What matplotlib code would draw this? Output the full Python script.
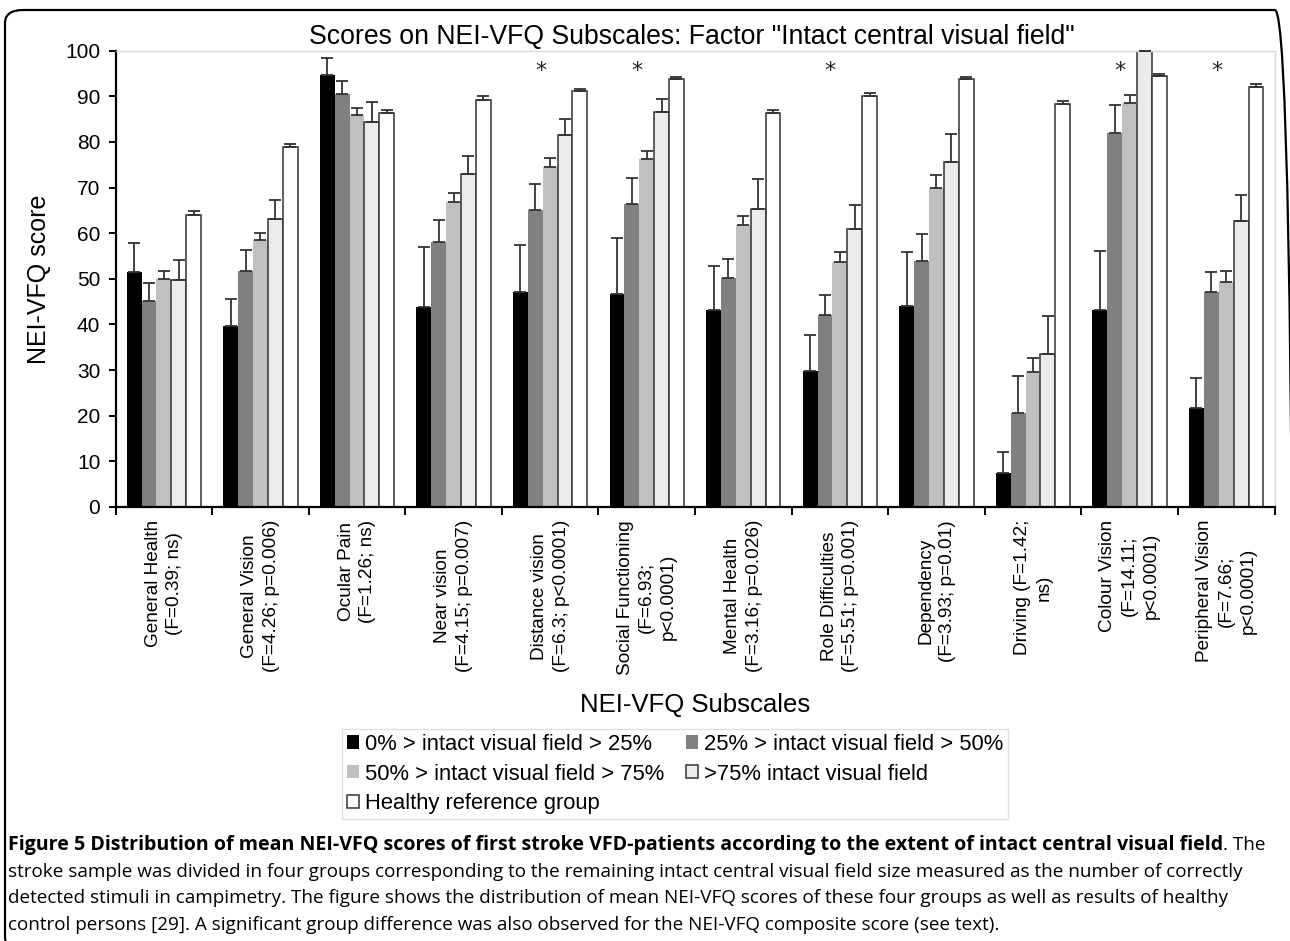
import matplotlib
matplotlib.use('Agg')
import matplotlib.pyplot as plt
from matplotlib.patches import FancyBboxPatch
import numpy as np

# ---------------- data ----------------
categories = [
    "General Health\n(F=0.39; ns)",
    "General Vision\n(F=4.26; p=0.006)",
    "Ocular Pain\n(F=1.26; ns)",
    "Near vision\n(F=4.15; p=0.007)",
    "Distance vision\n(F=6.3; p<0.0001)",
    "Social Functioning\n(F=6.93;\np<0.0001)",
    "Mental Health\n(F=3.16; p=0.026)",
    "Role Difficulties\n(F=5.51; p=0.001)",
    "Dependency\n(F=3.93; p=0.01)",
    "Driving (F=1.42;\nns)",
    "Colour Vision\n(F=14.11;\np<0.0001)",
    "Peripheral Vision\n(F=7.66;\np<0.0001)",
]
series_names = [
    "0% > intact visual field > 25%",
    "25% > intact visual field > 50%",
    "50% > intact visual field > 75%",
    ">75% intact visual field",
    "Healthy reference group",
]
g0_mean = [51.5, 39.6, 94.7, 43.9, 47.2, 46.7, 43.2, 29.9, 44.1, 7.5, 43.2, 21.8]
g0_err  = [6.3, 5.9, 3.6, 13.0, 10.2, 12.2, 9.7, 7.9, 11.7, 4.5, 12.9, 6.5]
g1_mean = [45.1, 51.7, 90.6, 58.0, 65.1, 66.4, 50.1, 42.0, 54.0, 20.5, 82.0, 47.1]
g1_err  = [4.1, 4.7, 2.8, 4.9, 5.6, 5.7, 4.3, 4.4, 5.8, 8.1, 6.0, 4.4]
g2_mean = [50.0, 58.5, 86.0, 66.9, 74.6, 76.3, 61.7, 53.6, 69.9, 29.5, 88.6, 49.4]
g2_err  = [1.8, 1.6, 1.5, 2.0, 1.8, 1.8, 2.1, 2.2, 2.9, 3.1, 1.8, 2.4]
g3_mean = [49.8, 63.1, 84.4, 72.9, 81.5, 86.6, 65.2, 60.9, 75.5, 33.5, 100.0, 62.6]
g3_err  = [4.4, 4.1, 4.4, 4.0, 3.5, 2.9, 6.6, 5.2, 6.3, 8.3, 0.0, 5.8]
g4_mean = [64.1, 78.9, 86.4, 89.3, 91.2, 93.7, 86.4, 90.1, 93.8, 88.3, 94.4, 92.0]
g4_err  = [0.8, 0.6, 0.5, 0.8, 0.5, 0.6, 0.7, 0.6, 0.5, 0.6, 0.5, 0.6]
significant = [4, 5, 7, 10, 11]
yticks = [0, 10, 20, 30, 40, 50, 60, 70, 80, 90, 100]

title = 'Scores on NEI-VFQ Subscales: Factor "Intact central visual field"'
xlabel = "NEI-VFQ Subscales"
ylabel = "NEI-VFQ score"
caption_bold = ("Figure 5 Distribution of mean NEI-VFQ scores of first stroke VFD-patients "
                "according to the extent of intact central visual field")
caption_lines = [
    ". The",
    "stroke sample was divided in four groups corresponding to the remaining intact central visual field size measured as the number of correctly",
    "detected stimuli in campimetry. The figure shows the distribution of mean NEI-VFQ scores of these four groups as well as results of healthy",
    "control persons [29]. A significant group difference was also observed for the NEI-VFQ composite score (see text).",
]

# ---------------- style ----------------
means = [g0_mean, g1_mean, g2_mean, g3_mean, g4_mean]
errs = [g0_err, g1_err, g2_err, g3_err, g4_err]
face = ['#000000', '#808080', '#c0c0c0', '#ebebeb', '#ffffff']
edge = ['#000000', '#808080', '#c0c0c0', '#333333', '#333333']
elw = [0, 0, 0, 1.1, 1.1]

W, H = 1290, 941
fig = plt.figure(figsize=(W / 100, H / 100), dpi=100)
plt.rcParams['font.family'] = ['Liberation Sans', 'DejaVu Sans']

# rounded frame: top edge 10 px below the top, right/bottom edges just off the canvas
f_left, f_right, f_top, f_bottom = 5, 1293, 10, 950
frame = FancyBboxPatch((f_left / W, 1 - f_bottom / H), (f_right - f_left) / W,
                       (f_bottom - f_top) / H,
                       boxstyle="round,pad=0,rounding_size=0.014",
                       transform=fig.transFigure, fill=False,
                       edgecolor='black', linewidth=1.6, clip_on=False)
fig.patches.append(frame)

left, right, top, bottom = 115.6, 1274.5, 50.7, 507.0
ax = fig.add_axes([left / W, 1 - bottom / H, (right - left) / W, (bottom - top) / H])

x = np.arange(len(categories))
bw = 0.1539
for k in range(5):
    pos = x + (k - 2) * bw
    ax.bar(pos, means[k], width=bw, color=face[k], edgecolor=edge[k],
           linewidth=elw[k], zorder=2, label=series_names[k])
    ax.errorbar(pos, means[k], yerr=[np.zeros(len(x)), errs[k]], fmt='none',
                ecolor='#333333', elinewidth=1.3, capsize=4.0, capthick=1.3,
                zorder=3, clip_on=False)

for g in significant:
    ax.text(g - 0.1, 95.6, '*', ha='center', va='center', fontsize=16,
            color='#222222', family=['DejaVu Sans'])

ax.set_xlim(-0.5, len(categories) - 0.5)
ax.set_ylim(0, 100)
ax.set_yticks(yticks)
ax.set_yticklabels([str(v) for v in yticks], fontsize=15)
ax.set_xticks(np.arange(len(categories) + 1) - 0.5)
ax.set_xticklabels([])
ax.tick_params(axis='y', direction='out', length=5, width=1.4, pad=6, color='black')
ax.tick_params(axis='x', direction='out', length=6, width=1.4, color='black')
for s in ['left', 'bottom']:
    ax.spines[s].set_linewidth(1.6)
    ax.spines[s].set_color('black')
for s in ['top', 'right']:
    ax.spines[s].set_linewidth(1.0)
    ax.spines[s].set_color('#d9d9d9')

trans = ax.get_xaxis_transform()
for i, lab in enumerate(categories):
    ax.text(i, -13 / (bottom - top), lab, transform=trans, rotation=90,
            ha='center', va='top', multialignment='center', fontsize=13.7,
            linespacing=1.36)

fig.text(692 / W, 1 - 37 / H, title, ha='center', va='center', fontsize=19.2)
fig.text(695 / W, 1 - 705 / H, xlabel, ha='center', va='center', fontsize=18.5)
fig.text(39 / W, 1 - 279 / H, ylabel, ha='center', va='center',
         rotation=90, fontsize=18)

# legend (row-major order)
handles, labels = ax.get_legend_handles_labels()
order = [0, 2, 4, 1, 3]
leg = fig.legend([handles[i] for i in order], [labels[i] for i in order],
                 ncol=2, loc='upper center', bbox_to_anchor=(675 / W, 1 - 729 / H),
                 fontsize=15.8, frameon=True, fancybox=False, edgecolor='#d9d9d9',
                 handlelength=0.55, handleheight=0.55, handletextpad=0.25,
                 columnspacing=1.0, labelspacing=0.40, borderpad=0.22,
                 borderaxespad=0)
leg.get_frame().set_linewidth(1.0)

# caption
cap_font = ['Open Sans', 'DejaVu Sans']
cap_size = 13.6
ys = [845, 872, 898, 925]
t0 = fig.text(8 / W, 1 - ys[0] / H, caption_bold, ha='left', va='center',
              fontsize=14.1, fontweight='bold', family=cap_font)
fig.canvas.draw()
bb = t0.get_window_extent()
fig.text(bb.x1 / W, 1 - ys[0] / H, caption_lines[0], ha='left', va='center',
         fontsize=cap_size, family=cap_font)
for yy, line in zip(ys[1:], caption_lines[1:]):
    fig.text(8 / W, 1 - yy / H, line, ha='left', va='center',
             fontsize=cap_size, family=cap_font)

fig.savefig('out.png', dpi=100)
